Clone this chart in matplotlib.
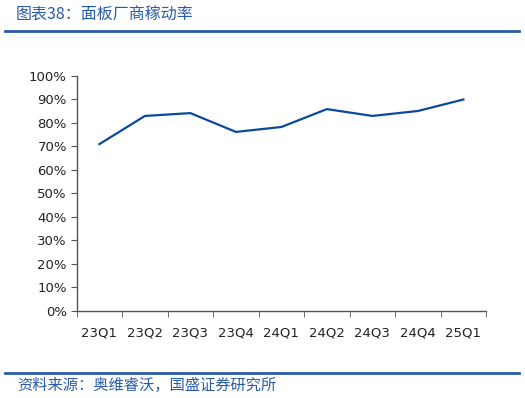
#!/usr/bin/env python3

# import modules
from matplotlib import pyplot as plt
from matplotlib.lines import Line2D
from matplotlib.ticker import PercentFormatter, FixedLocator
import numpy as np

plt.rcParams['font.family'] = ['DejaVu Sans', 'Noto Sans CJK SC']

# data
quarters = ['23Q1', '23Q2', '23Q3', '23Q4', '24Q1', '24Q2', '24Q3', '24Q4', '25Q1']
utilization = [71.0, 83.0, 84.2, 76.2, 78.3, 85.9, 83.0, 85.1, 90.0]

title_text = '图表38：面板厂商稼动率'
source_text = '资料来源：奥维睿沃，国盛证券研究所'

blue = '#0A4A9E'
header_blue = '#2A5BA8'

fig = plt.figure(figsize=(5.25, 3.98), dpi=100)
ax = fig.add_axes([0.146, 0.2186, 0.78, 0.5905])

x = np.arange(len(quarters))
ax.plot(x, utilization, color=blue, linewidth=1.6)

ax.set_xlim(-0.5, len(quarters) - 0.5)
ax.set_ylim(0, 100)
ax.set_yticks(np.arange(0, 101, 10))
ax.yaxis.set_major_formatter(PercentFormatter(decimals=0))

# category labels centred, tick marks between categories
ax.set_xticks(x)
ax.set_xticklabels(quarters)
ax.xaxis.set_minor_locator(FixedLocator(np.arange(-0.5, len(quarters), 1)))
ax.tick_params(axis='x', which='major', length=0, pad=11, labelsize=9.5, colors='#222222')
ax.tick_params(axis='x', which='minor', length=4, direction='out', color='#555555')
ax.tick_params(axis='y', length=4, direction='out', color='#555555', labelsize=9.5,
               labelcolor='#222222', pad=3)

for side in ['top', 'right']:
	ax.spines[side].set_visible(False)
for side in ['left', 'bottom']:
	ax.spines[side].set_color('#555555')
	ax.spines[side].set_linewidth(1)

# header and footer
fig.text(0.03, 0.963, title_text, color=header_blue, fontsize=11.5, va='center', ha='left',
         family=['Noto Sans CJK SC', 'DejaVu Sans'], style='italic')
fig.add_artist(Line2D([0.01, 0.988], [0.922, 0.922], color=header_blue, linewidth=2))
fig.add_artist(Line2D([0.01, 0.988], [0.062, 0.062], color=header_blue, linewidth=2))
fig.text(0.032, 0.032, source_text, color=header_blue, fontsize=11, va='center', ha='left',
         family=['Noto Sans CJK SC', 'DejaVu Sans'], style='italic')

# write to disk
plt.savefig('out.png', dpi=100)
